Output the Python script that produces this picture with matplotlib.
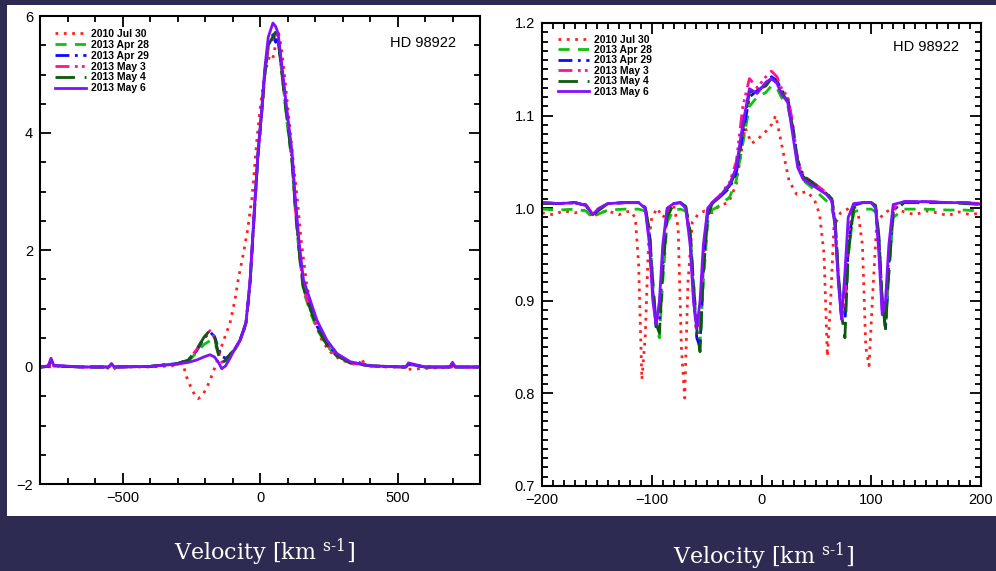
import matplotlib
matplotlib.use("Agg")
import matplotlib.pyplot as plt
from matplotlib.patches import Rectangle
from matplotlib.ticker import MultipleLocator

plt.rcParams['font.family'] = ['Liberation Sans', 'DejaVu Sans']
plt.rcParams['mathtext.fontset'] = 'custom'
plt.rcParams['mathtext.rm'] = 'DejaVu Serif'

# ---- left panel: broad emission profile (km/s, flux above continuum) ----
v_left = [-800, -770, -760, -750, -650, -550, -540, -530, -400, -300,
          -260, -230, -205, -182, -165, -150, -139, -125, -109, -91,
          -73, -60, -51, -43, -36, -18, -7, 6, 18, 30,
          47, 57, 66, 80, 98, 117, 128, 143, 158, 182,
          207, 243, 280, 328, 400, 520, 530, 540, 600, 690,
          700, 710, 800]
apr28_l = [0.0, 0.01, 0.1, 0.02, 0.0, 0.0, 0.04, 0.0, 0.01, 0.05,
           0.1, 0.25, 0.38, 0.45, 0.42, 0.2, 0.08, 0.1, 0.2, 0.3,
           0.44, 0.6, 0.74, 1.1, 1.42, 2.8, 3.6, 4.3, 5.0, 5.45,
           5.62, 5.7, 5.58, 5.0, 4.2, 3.45, 2.7, 1.9, 1.3, 0.95,
           0.65, 0.36, 0.18, 0.07, 0.02, 0.0, 0.0, 0.04, 0.0, 0.0,
           0.05, 0.0, 0.0]
apr29_l = [0.0, 0.01, 0.1, 0.02, 0.0, 0.0, 0.05, 0.0, 0.01, 0.06,
           0.12, 0.28, 0.48, 0.6, 0.52, 0.3, 0.18, 0.15, 0.2, 0.3,
           0.45, 0.62, 0.76, 1.12, 1.45, 2.85, 3.65, 4.35, 5.05, 5.5,
           5.68, 5.55, 5.62, 5.05, 4.3, 3.55, 2.8, 2.0, 1.4, 1.05,
           0.7, 0.4, 0.2, 0.08, 0.02, 0.0, 0.0, 0.05, 0.0, 0.0,
           0.06, 0.0, 0.0]
may3_l = [0.0, 0.01, 0.11, 0.02, 0.0, 0.0, 0.05, 0.0, 0.01, 0.06,
          0.12, 0.3, 0.5, 0.62, 0.5, 0.22, 0.08, 0.12, 0.22, 0.3,
          0.45, 0.63, 0.76, 1.1, 1.45, 2.85, 3.65, 4.35, 5.05, 5.5,
          5.6, 5.75, 5.65, 5.05, 4.3, 3.5, 2.75, 1.95, 1.35, 1.0,
          0.68, 0.38, 0.19, 0.07, 0.02, 0.0, 0.0, 0.05, 0.0, 0.0,
          0.06, 0.0, 0.0]
may4_l = [0.0, 0.01, 0.12, 0.02, 0.0, 0.0, 0.05, 0.0, 0.01, 0.06,
          0.12, 0.3, 0.5, 0.63, 0.5, 0.2, 0.07, 0.12, 0.22, 0.3,
          0.45, 0.63, 0.76, 1.1, 1.45, 2.85, 3.65, 4.35, 5.05, 5.5,
          5.65, 5.72, 5.6, 5.0, 4.25, 3.5, 2.75, 1.95, 1.35, 1.0,
          0.68, 0.38, 0.19, 0.07, 0.02, 0.0, 0.0, 0.05, 0.0, 0.0,
          0.06, 0.0, 0.0]
may6_l = [0.0, 0.02, 0.15, 0.03, 0.0, 0.0, 0.06, 0.0, 0.01, 0.05,
          0.08, 0.12, 0.17, 0.21, 0.17, 0.07, -0.03, 0.02, 0.15, 0.32,
          0.46, 0.63, 0.76, 1.15, 1.5, 2.9, 3.7, 4.39, 5.13, 5.64,
          5.88, 5.82, 5.7, 5.13, 4.39, 3.65, 2.9, 2.1, 1.49, 1.15,
          0.8, 0.46, 0.23, 0.09, 0.02, 0.0, 0.0, 0.07, 0.0, 0.0,
          0.08, 0.0, 0.0]
# 2010 spectrum has its own sampling
v_jul_l = [-800, -700, -560, -540, -520, -400, -320, -290, -280, -267,
           -250, -235, -225, -212, -195, -178, -158, -140, -125, -109,
           -91, -79, -60, -45, -29, -11, 0, 15, 30, 40,
           48, 58, 68, 78, 90, 105, 120, 135, 150, 170,
           195, 220, 250, 290, 340, 360, 370, 380, 450, 525,
           535, 700, 800]
jul30_l = [0.0, 0.01, 0.0, -0.06, 0.0, 0.0, 0.02, 0.06, 0.05, -0.17,
           -0.36, -0.5, -0.54, -0.5, -0.37, -0.18, 0.07, 0.35, 0.55, 0.75,
           1.15, 1.5, 1.95, 2.35, 2.9, 3.9, 4.4, 4.95, 5.25, 5.35,
           5.3, 5.55, 5.7, 5.45, 4.95, 4.25, 3.55, 2.9, 2.15, 1.4,
           0.85, 0.5, 0.28, 0.13, 0.05, 0.04, 0.15, 0.04, 0.0, 0.0,
           -0.04, 0.0, 0.0]

# ---- right panel: normalised spectrum around line centre ----
v_right = [-200, -185, -170, -160, -154, -148, -140, -125, -112, -106,
           -102, -99, -96, -93, -90, -86, -80, -74, -69, -65,
           -62, -59, -56, -53, -49, -45, -38, -29, -23, -17,
           -11, -4, 4, 9, 14, 18, 24, 28, 33, 38,
           50, 59, 64, 67, 70, 73, 76, 79, 84, 92,
           100, 104, 107, 110, 113, 116, 120, 130, 150, 170,
           185, 200]
apr28_r = [0.999, 0.998, 0.999, 0.997, 0.99, 0.994, 0.998, 0.999, 0.999, 0.997,
           0.975, 0.92, 0.87, 0.86, 0.92, 0.985, 0.998, 0.999, 0.997, 0.975,
           0.92, 0.87, 0.855, 0.92, 0.985, 0.998, 1.003, 1.012, 1.03, 1.07,
           1.11, 1.12, 1.125, 1.132, 1.13, 1.12, 1.11, 1.088, 1.05, 1.03,
           1.018, 1.008, 1.0, 0.985, 0.93, 0.885, 0.88, 0.95, 0.996, 0.999,
           0.999, 0.996, 0.965, 0.9, 0.87, 0.93, 0.99, 0.999, 0.999, 0.998,
           0.998, 0.997]
apr29_r = [1.006, 1.005, 1.006, 1.003, 0.993, 0.999, 1.005, 1.006, 1.006, 1.001,
           0.97, 0.91, 0.872, 0.88, 0.94, 0.995, 1.005, 1.006, 1.001, 0.97,
           0.91, 0.86, 0.85, 0.94, 0.995, 1.005, 1.012, 1.022, 1.038, 1.08,
           1.12, 1.127, 1.133, 1.142, 1.138, 1.128, 1.118, 1.092, 1.052, 1.035,
           1.025, 1.016, 1.01, 0.985, 0.925, 0.88, 0.875, 0.96, 1.003, 1.006,
           1.006, 1.002, 0.965, 0.9, 0.87, 0.94, 0.998, 1.007, 1.007, 1.006,
           1.006, 1.005]
may3_r = [1.006, 1.005, 1.006, 1.004, 0.994, 1.0, 1.005, 1.006, 1.006, 1.0,
          0.965, 0.905, 0.875, 0.89, 0.95, 0.998, 1.005, 1.006, 1.0, 0.965,
          0.905, 0.865, 0.88, 0.95, 0.998, 1.006, 1.014, 1.028, 1.05, 1.11,
          1.14, 1.13, 1.142, 1.148, 1.142, 1.13, 1.12, 1.095, 1.05, 1.035,
          1.025, 1.017, 1.01, 0.985, 0.925, 0.88, 0.9, 0.97, 1.004, 1.006,
          1.006, 1.001, 0.96, 0.89, 0.88, 0.95, 1.0, 1.007, 1.007, 1.006,
          1.006, 1.005]
may4_r = [1.005, 1.005, 1.006, 1.003, 0.992, 0.998, 1.005, 1.006, 1.006, 1.002,
          0.975, 0.92, 0.875, 0.865, 0.93, 0.99, 1.005, 1.006, 1.002, 0.975,
          0.92, 0.87, 0.845, 0.93, 0.99, 1.005, 1.012, 1.024, 1.04, 1.085,
          1.125, 1.128, 1.132, 1.14, 1.136, 1.126, 1.115, 1.09, 1.05, 1.034,
          1.024, 1.016, 1.01, 0.99, 0.93, 0.885, 0.86, 0.95, 1.0, 1.006,
          1.006, 1.003, 0.97, 0.9, 0.87, 0.93, 0.995, 1.006, 1.006, 1.006,
          1.005, 1.004]
may6_r = [1.006, 1.005, 1.006, 1.003, 0.993, 1.0, 1.005, 1.006, 1.006, 1.0,
          0.96, 0.9, 0.874, 0.9, 0.96, 1.0, 1.005, 1.006, 1.0, 0.96,
          0.9, 0.87, 0.9, 0.96, 1.0, 1.006, 1.013, 1.026, 1.044, 1.091,
          1.129, 1.124, 1.136, 1.14, 1.135, 1.124, 1.114, 1.083, 1.044, 1.031,
          1.022, 1.015, 1.008, 0.98, 0.92, 0.88, 0.93, 0.99, 1.005, 1.006,
          1.006, 1.0, 0.95, 0.885, 0.9, 0.96, 1.004, 1.007, 1.007, 1.006,
          1.006, 1.004]
v_jul_r = [-200, -190, -180, -170, -160, -154, -148, -140, -130, -120,
           -115, -112, -109, -106, -103, -100, -95, -90, -85, -80,
           -76, -73, -70, -67, -63, -58, -52, -45, -38, -30,
           -23, -15, -9, -3, 4, 9, 13, 19, 25, 32,
           41, 48, 53, 57, 60, 63, 66, 72, 80, 88,
           92, 95, 98, 101, 105, 112, 120, 130, 140, 150,
           160, 170, 180, 190, 200]
jul30_r = [0.995, 0.993, 0.997, 0.995, 0.998, 0.99, 0.995, 0.997, 0.993, 0.997,
           0.99, 0.94, 0.815, 0.86, 0.96, 0.99, 1.0, 0.99, 0.997, 1.003,
           0.98, 0.85, 0.795, 0.92, 0.985, 0.993, 0.997, 0.995, 1.003, 1.006,
           1.026, 1.087, 1.07, 1.075, 1.083, 1.09, 1.1, 1.065, 1.03, 1.015,
           1.018, 1.01, 0.993, 0.95, 0.84, 0.9, 0.98, 0.995, 1.0, 0.995,
           0.96, 0.85, 0.83, 0.9, 0.985, 0.995, 1.0, 0.996, 0.993, 0.997,
           0.995, 0.992, 0.996, 0.993, 0.995]

labels = ['2010 Jul 30', '2013 Apr 28', '2013 Apr 29', '2013 May 3', '2013 May 4', '2013 May 6']
colors = ['#ff2020', '#10c010', '#0a0aff', '#ff1090', '#0a5a0a', '#8010ff']
styles = [(0, (1, 2.0)), (0, (4, 3)), (0, (5, 2, 1, 2)), (0, (5, 2, 1, 1.5, 1, 1.5, 1, 2)),
          (0, (7, 3.5)), '-']

fig = plt.figure(figsize=(9.96, 5.71), dpi=100, facecolor='#2e2b52')
fig.add_artist(Rectangle((7 / 996, 1 - 516 / 571), 989 / 996, 511 / 571,
                         transform=fig.transFigure, facecolor='white', edgecolor='none', zorder=0))

ax1 = fig.add_axes([40 / 996, 1 - 484 / 571, 440 / 996, 468 / 571])
ax2 = fig.add_axes([542 / 996, 1 - 486 / 571, 439 / 996, 463 / 571])

left_data = [(v_jul_l, jul30_l), (v_left, apr28_l), (v_left, apr29_l),
             (v_left, may3_l), (v_left, may4_l), (v_left, may6_l)]
right_data = [(v_jul_r, jul30_r), (v_right, apr28_r), (v_right, apr29_r),
              (v_right, may3_r), (v_right, may4_r), (v_right, may6_r)]

for ax, data in [(ax1, left_data), (ax2, right_data)]:
    for (v, f), lab, c, ls in zip(data, labels, colors, styles):
        ax.plot(v, f, color=c, ls=ls, lw=2.0, label=lab)

ax1.set_xlim(-800, 800)
ax1.set_ylim(-2, 6)
ax1.xaxis.set_major_locator(MultipleLocator(500))
ax1.xaxis.set_minor_locator(MultipleLocator(100))
ax1.yaxis.set_major_locator(MultipleLocator(2))
ax1.yaxis.set_minor_locator(MultipleLocator(0.5))

ax2.set_xlim(-200, 200)
ax2.set_ylim(0.7, 1.2)
ax2.xaxis.set_major_locator(MultipleLocator(100))
ax2.xaxis.set_minor_locator(MultipleLocator(10))
ax2.yaxis.set_major_locator(MultipleLocator(0.1))
ax2.yaxis.set_minor_locator(MultipleLocator(0.01))

for ax in (ax1, ax2):
    for s in ax.spines.values():
        s.set_linewidth(1.5)
    ax.tick_params(which='both', direction='in', top=True, right=True, width=1.3,
                   labelsize=10.5, pad=5)
    ax.tick_params(which='major', length=8)
    ax.tick_params(which='minor', length=4)

legend_font = {'size': 7.5, 'weight': 'bold'}
ax1.legend(loc='upper left', bbox_to_anchor=(0.034, 0.972), frameon=False, prop=legend_font,
           handlelength=3.0, handletextpad=0.5, labelspacing=0.08, borderpad=0, borderaxespad=0)
ax2.legend(loc='upper left', bbox_to_anchor=(0.036, 0.975), frameon=False, prop=legend_font,
           handlelength=3.0, handletextpad=0.5, labelspacing=0.04, borderpad=0, borderaxespad=0)

ax1.text(0.795, 0.942, 'HD 98922', transform=ax1.transAxes, fontsize=10.5, va='center')
ax2.text(0.80, 0.948, 'HD 98922', transform=ax2.transAxes, fontsize=10.5, va='center')

fig.text(265 / 996, 1 - 552 / 571, r'Velocity [km $^{\text{s-1}}$]', color='white',
         fontsize=16, family='DejaVu Serif', ha='center', va='center')
fig.text(764 / 996, 1 - 556 / 571, r'Velocity [km $^{\text{s-1}}$]', color='white',
         fontsize=16, family='DejaVu Serif', ha='center', va='center')

fig.savefig('out.png', dpi=100, facecolor=fig.get_facecolor())
